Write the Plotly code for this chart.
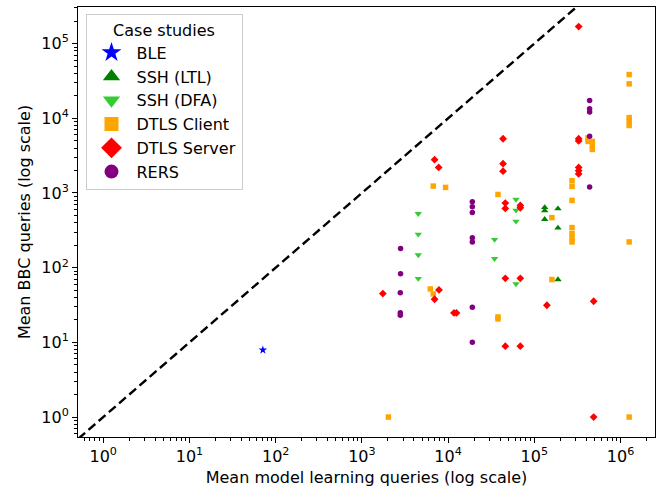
import plotly.graph_objects as go

# ---------------- data ----------------
ble_x = [71]
ble_y = [7.9]

ssh_ltl_x = [1.32e5, 1.32e5, 1.88e5, 1.32e5, 1.88e5, 1.88e5]
ssh_ltl_y = [641, 580, 617, 444, 340, 69.3]

ssh_dfa_x = [4510, 4510, 4510, 4510, 34600, 34600, 61300, 61300, 61300, 61300]
ssh_dfa_y = [529, 280, 148, 71.5, 238, 132, 821, 585, 417, 60.5]

dtls_client_x = [2030, 1.26e6, 6210, 6730, 6730, 9350, 37900, 37900, 37900,
                 1.26e6, 1.26e6, 1.26e6, 1.26e6, 1.26e6, 4.2e5, 4.2e5,
                 4.71e5, 4.71e5, 4.71e5, 2.74e5, 2.74e5, 2.74e5, 1.6e5,
                 2.74e5, 2.74e5, 2.74e5, 2.74e5, 1.26e6, 1.6e5]
dtls_client_y = [1, 1, 51.9, 44.5, 1237, 1188, 956, 21.9, 20.6,
                 38500, 28900, 10200, 9060, 8010, 5450, 4900,
                 4900, 4330, 3830, 1460, 1225, 796, 468,
                 344, 286, 251, 221, 221, 69.3]

dtls_server_x = [1750, 6970, 7770, 7840, 6970, 11700, 12500, 3.27e5, 43400,
                 3.27e5, 3.27e5, 43400, 43400, 3.27e5, 3.27e5, 3.27e5,
                 46100, 46100, 68800, 68800, 46100, 68800, 4.88e5, 1.4e5,
                 46100, 68800, 4.88e5]
dtls_server_y = [45, 2790, 2200, 50.3, 37.8, 24.8, 24.8, 1.69e5, 5320,
                 5320, 4970, 2470, 1960, 2200, 1990, 1800,
                 733, 622, 682, 634, 72.1, 72, 35.5, 31.4,
                 8.9, 8.9, 1]

rers_x = [2790, 2790, 2790, 2810, 2810, 19100, 19100, 19100, 19100, 19100,
          19100, 19100, 4.38e5, 4.38e5, 4.38e5, 4.38e5, 4.38e5]
rers_y = [46, 25, 23, 180, 83, 765, 656, 546, 252, 221,
          29.6, 10, 17300, 13400, 12100, 5770, 1200]

diag_vals = [0.1, 1e7]

major_vals = [1, 10, 100, 1e3, 1e4, 1e5, 1e6]
major_text = ["10<sup>0</sup>", "10<sup>1</sup>", "10<sup>2</sup>", "10<sup>3</sup>",
              "10<sup>4</sup>", "10<sup>5</sup>", "10<sup>6</sup>"]
minor_vals = [m * 10 ** e for e in range(-1, 7) for m in range(2, 10)]

series = [
    ("BLE", ble_x, ble_y, "star", "#0000ff", 6.5),
    ("SSH (LTL)", ssh_ltl_x, ssh_ltl_y, "triangle-up", "#008000", 6.5),
    ("SSH (DFA)", ssh_dfa_x, ssh_dfa_y, "triangle-down", "#32cd32", 6.5),
    ("DTLS Client", dtls_client_x, dtls_client_y, "square", "#ffa500", 5.5),
    ("DTLS Server", dtls_server_x, dtls_server_y, "diamond", "#ff0000", 6),
    ("RERS", rers_x, rers_y, "circle", "#800080", 5.5),
]

FONT = "DejaVu Sans"
FS = 16

fig = go.Figure()

fig.add_trace(go.Scatter(x=diag_vals, y=diag_vals, mode="lines",
                         line=dict(color="black", width=2.4, dash="9px,4.5px"),
                         showlegend=False, hoverinfo="skip"))

for name, xs, ys, sym, col, sz in series:
    fig.add_trace(go.Scatter(x=xs, y=ys, mode="markers", name=name,
                             marker=dict(symbol=sym, color=col, size=sz, line=dict(width=0)),
                             showlegend=False, legendgroup=name))

# legend-only entries with larger symbols
legend_sizes = {"star": 15, "triangle-up": 15, "triangle-down": 15,
                "square": 14, "diamond": 16, "circle": 14}
for name, xs, ys, sym, col, sz in series:
    fig.add_trace(go.Scatter(x=[None], y=[None], mode="markers", name=name,
                             marker=dict(symbol=sym, color=col, size=legend_sizes[sym],
                                         line=dict(width=0)),
                             showlegend=True, legendgroup=name))

axis_common = dict(
    type="log", showgrid=False, zeroline=False,
    showline=True, linecolor="black", linewidth=1, mirror=True,
    ticks="outside", ticklen=5, tickwidth=1, tickcolor="black",
    tickmode="array", tickvals=major_vals, ticktext=major_text,
    tickfont=dict(family=FONT, size=FS, color="black"),
    minor=dict(ticks="outside", ticklen=3, tickwidth=0.8, tickcolor="black",
               tickmode="array", tickvals=minor_vals, showgrid=False),
)

fig.update_xaxes(**axis_common, range=[-0.293, 6.40],
                 title=dict(text="Mean model learning queries (log scale)",
                            font=dict(family=FONT, size=FS, color="black"),
                            standoff=6))
fig.update_yaxes(**axis_common, range=[-0.267, 5.49],
                 title=dict(text="Mean BBC queries (log scale)",
                            font=dict(family=FONT, size=FS, color="black"),
                            standoff=6))

fig.update_layout(
    width=660, height=491,
    margin=dict(l=78, r=5, t=7, b=54),
    paper_bgcolor="white", plot_bgcolor="white",
    font=dict(family=FONT, size=FS, color="black"),
    legend=dict(
        x=0.013, y=0.984, xanchor="left", yanchor="top",
        bgcolor="rgba(255,255,255,0.8)", bordercolor="#cccccc", borderwidth=1,
        title=dict(text="Case studies", side="top center",
                   font=dict(family=FONT, size=FS, color="black")),
        font=dict(family=FONT, size=FS, color="black"),
        traceorder="grouped", tracegroupgap=0, itemsizing="trace",
        itemwidth=40,
    ),
)

fig.write_html("out.html")
